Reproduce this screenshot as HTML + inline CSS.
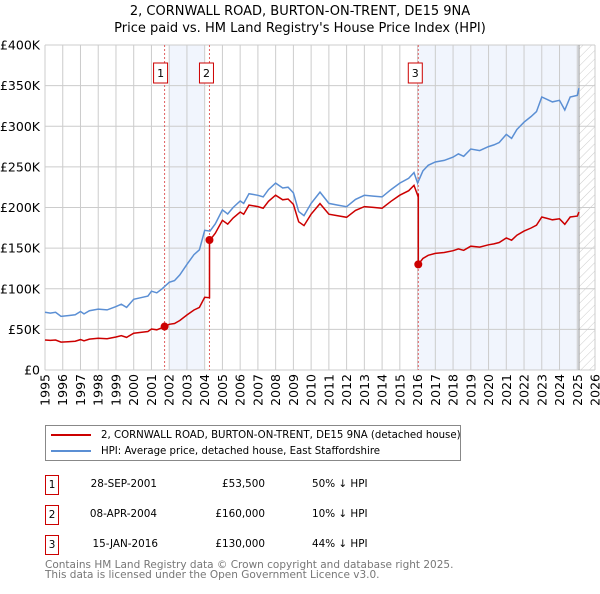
<!DOCTYPE html>
<html><head><meta charset="utf-8"><style>
body{margin:0;background:#fff;font-family:"DejaVu Sans","Liberation Sans",sans-serif}
svg text{font-family:"DejaVu Sans","Liberation Sans",sans-serif}
.tb div{white-space:nowrap}
</style></head><body>
<svg id="c" width="600" height="590" xmlns="http://www.w3.org/2000/svg"></svg>
<script>
const hpiYears=[1995,1995.3,1995.6,1995.9,1996.3,1996.7,1997,1997.2,1997.5,1998,1998.5,1999,1999.3,1999.6,2000,2000.4,2000.8,2001,2001.3,2001.6,2002,2002.3,2002.6,2003,2003.4,2003.7,2004,2004.3,2004.6,2005,2005.3,2005.6,2006,2006.2,2006.5,2007,2007.3,2007.6,2008,2008.4,2008.7,2009,2009.3,2009.6,2010,2010.5,2011,2011.5,2012,2012.5,2013,2013.5,2014,2014.5,2015,2015.5,2015.8,2016,2016.3,2016.6,2017,2017.5,2018,2018.3,2018.6,2019,2019.5,2020,2020.3,2020.6,2021,2021.3,2021.6,2022,2022.4,2022.7,2023,2023.3,2023.6,2024,2024.3,2024.6,2025,2025.1];
const hpiValues=[71,70,71,66,67,68,72,69,73,75,74,78,81,77,87,89,91,97,95,100,108,110,117,130,142,148,172,171,180,197,192,200,208,205,217,215,213,222,230,224,225,218,195,190,205,219,205,203,201,210,215,214,213,222,230,236,243,230,245,252,256,258,262,266,263,272,270,275,277,280,290,285,296,305,312,318,336,333,330,332,320,336,338,347];
const saleYears=[2001.74,2004.27,2016.04];
const salePrices=[53.5,160,130];
const saleLabels=["1","2","3"];
const yTicks=[0,50,100,150,200,250,300,350,400];
const yTickLabels=["£0","£50K","£100K","£150K","£200K","£250K","£300K","£350K","£400K"];
const xTicks=[1995,1996,1997,1998,1999,2000,2001,2002,2003,2004,2005,2006,2007,2008,2009,2010,2011,2012,2013,2014,2015,2016,2017,2018,2019,2020,2021,2022,2023,2024,2025,2026];

const svg=document.getElementById('c');const NS='http://www.w3.org/2000/svg';
const X0=45,X1=595,Y0=370,Y1=45;
const xs=y=>X0+(y-1995)/(2026-1995)*(X1-X0);
const ys=v=>Y0-v/400*(Y0-Y1);
function el(t,a,p){const e=document.createElementNS(NS,t);for(const k in a)e.setAttribute(k,a[k]);(p||svg).appendChild(e);return e;}
function interp(t){for(let i=0;i<hpiYears.length-1;i++){if(t>=hpiYears[i]&&t<=hpiYears[i+1]){const f=(t-hpiYears[i])/(hpiYears[i+1]-hpiYears[i]);return hpiValues[i]+f*(hpiValues[i+1]-hpiValues[i]);}}return hpiValues[hpiValues.length-1];}

let t=el('text',{x:300,y:15,'text-anchor':'middle','font-size':13});t.textContent='2, CORNWALL ROAD, BURTON-ON-TRENT, DE15 9NA';

t=el('text',{x:300,y:32,'text-anchor':'middle','font-size':13});t.textContent="Price paid vs. HM Land Registry's House Price Index (HPI)";


let r=el('rect',{x:xs(2002),y:Y1,width:xs(2004)-xs(2002),height:Y0-Y1,fill:'#eef3fc',opacity:0.8});

r=el('rect',{x:xs(saleYears[2]),y:Y1,width:xs(2025.1)-xs(saleYears[2]),height:Y0-Y1,fill:'#eef3fc',opacity:0.8});

const defs=el('defs',{});const pat=el('pattern',{id:'h',width:6,height:6,patternUnits:'userSpaceOnUse',patternTransform:'rotate(45)'},defs);
el('line',{x1:0,y1:0,x2:0,y2:6,stroke:'#ccc','stroke-width':1},pat);
r=el('rect',{x:xs(2025.1),y:Y1,width:X1-xs(2025.1),height:Y0-Y1,fill:'url(#h)'});


xTicks.forEach(y=>{const l=el('line',{x1:xs(y),x2:xs(y),y1:Y1,y2:Y0,stroke:'#ccc'});
const tx=el('text',{x:0,y:0,'font-size':12.5,transform:`translate(${xs(y)+4.5},${Y0+4}) rotate(-90)`,'text-anchor':'end'});tx.textContent=y;});
yTicks.forEach((v,i)=>{const l=el('line',{x1:X0,x2:X1,y1:ys(v),y2:ys(v),stroke:'#ccc'});
const tx=el('text',{x:40,y:ys(v)+4.5,'font-size':12.5,'text-anchor':'end'});tx.textContent=yTickLabels[i];});
el('line',{x1:xs(2025.1),x2:xs(2025.1),y1:Y1,y2:Y0,stroke:'#999'});

saleYears.forEach((s,i)=>{const l=el('line',{x1:xs(s),x2:xs(s),y1:Y1,y2:Y0,stroke:'#e06060','stroke-dasharray':'2,2'});
const g=el('g',{});
el('rect',{x:(i==0?xs(s)-11:xs(s)-10),y:63,width:14,height:20,fill:'#fff',stroke:'#c00'},g);
const tt=el('text',{x:(i==0?xs(s)-4:xs(s)-3),y:77,'text-anchor':'middle','font-size':11},g);tt.textContent=saleLabels[i];});

let d=hpiYears.map((y,i)=>(i?'L':'M')+xs(y).toFixed(1)+','+ys(hpiValues[i]).toFixed(1)).join('');
let p=el('path',{d,fill:'none',stroke:'#5b8fd4','stroke-width':1.5});

function factorAt(y){let f=salePrices[0]/interp(saleYears[0]);for(let i=0;i<saleYears.length;i++)if(y>=saleYears[i])f=salePrices[i]/interp(saleYears[i]);return f;}
let pts=[];
hpiYears.forEach((y,i)=>{
  saleYears.forEach((s,k)=>{if(k>0&&i>0&&s>hpiYears[i-1]&&s<=y){pts.push([s,interp(s)*salePrices[k-1]/interp(saleYears[k-1])]);pts.push([s,salePrices[k]]);}});
  pts.push([y,hpiValues[i]*factorAt(y)]);
});
d=pts.map((q,i)=>(i?'L':'M')+xs(q[0]).toFixed(1)+','+ys(q[1]).toFixed(1)).join('');
p=el('path',{d,fill:'none',stroke:'#cc0000','stroke-width':1.5});
saleYears.forEach((s,i)=>{const c=el('circle',{cx:xs(s),cy:ys(salePrices[i]),r:4,fill:'#cc0000'});});
</script>
<div style="position:absolute;left:45px;top:425px;width:416px;height:36px;border:1px solid #888;box-sizing:border-box;font-size:10.2px">
 <div style="position:absolute;left:5px;top:4px;white-space:nowrap"><span style="display:inline-block;width:40px;height:2px;background:#cc0000;vertical-align:middle;margin-right:10px"></span>2, CORNWALL ROAD, BURTON-ON-TRENT, DE15 9NA (detached house)</div>
 <div style="position:absolute;left:5px;top:20px;white-space:nowrap"><span style="display:inline-block;width:40px;height:2px;background:#5b8fd4;vertical-align:middle;margin-right:10px"></span>HPI: Average price, detached house, East Staffordshire</div>
</div>
<div class="tb" style="position:absolute;left:0;top:0;font-size:10.4px">
 <div>
  <div style="position:absolute;left:45px;top:475px;width:14px;height:20px;border:1px solid #c00;box-sizing:border-box;text-align:center;line-height:18px">1</div>
  <div style="position:absolute;left:60px;top:478px;width:97px;text-align:right">28-SEP-2001</div>
  <div style="position:absolute;left:160px;top:478px;width:105px;text-align:right">£53,500</div>
  <div style="position:absolute;left:312px;top:478px">50% ↓ HPI</div></div>
 <div>
  <div style="position:absolute;left:45px;top:505px;width:14px;height:20px;border:1px solid #c00;box-sizing:border-box;text-align:center;line-height:18px">2</div>
  <div style="position:absolute;left:60px;top:508px;width:97px;text-align:right">08-APR-2004</div>
  <div style="position:absolute;left:160px;top:508px;width:105px;text-align:right">£160,000</div>
  <div style="position:absolute;left:312px;top:508px">10% ↓ HPI</div></div>
 <div>
  <div style="position:absolute;left:45px;top:535px;width:14px;height:20px;border:1px solid #c00;box-sizing:border-box;text-align:center;line-height:18px">3</div>
  <div style="position:absolute;left:60px;top:538px;width:98px;text-align:right">15-JAN-2016</div>
  <div style="position:absolute;left:160px;top:538px;width:105px;text-align:right">£130,000</div>
  <div style="position:absolute;left:312px;top:538px">44% ↓ HPI</div></div>
</div>
<div style="position:absolute;left:45px;top:560px;font-size:10.5px;color:#777;line-height:10px;white-space:nowrap">Contains HM Land Registry data © Crown copyright and database right 2025.<br>This data is licensed under the Open Government Licence v3.0.</div>
</body></html>
